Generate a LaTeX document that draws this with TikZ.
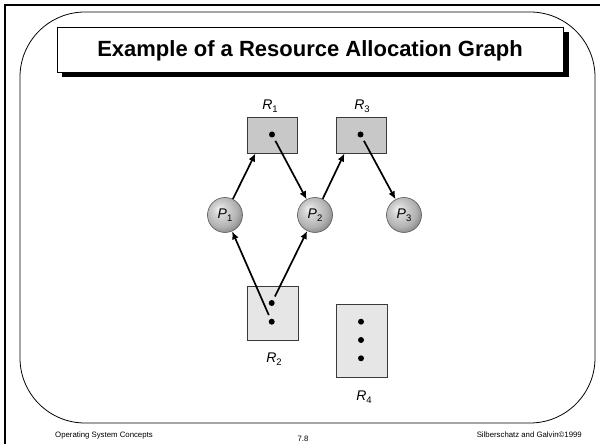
\documentclass[tikz,border=0pt]{standalone}
\usepackage{fontspec}
\setmainfont{Liberation Sans}
\usetikzlibrary{arrows.meta,shapes.geometric,calc}
\newcommand\lab[2]{\textit{#1}\raisebox{-3pt}{\fontsize{9.5}{9.5}\selectfont #2}}
\definecolor{boxdark}{HTML}{C8C8C8}
\definecolor{boxlight}{HTML}{E6E6E6}
\definecolor{edgegray}{HTML}{3A3A3A}
\pgfdeclareradialshading{sphere}{\pgfpoint{-9bp}{9bp}}{%
  color(0bp)=(black!5);
  color(10bp)=(black!18);
  color(22bp)=(black!30);
  color(28bp)=(black!42);
  color(50bp)=(black!50)}
\tikzset{
  resdark/.style={draw=edgegray, line width=0.9pt, fill=boxdark, minimum width=50pt, minimum height=36pt, inner sep=0pt},
  reslight/.style={draw=edgegray, line width=0.9pt, fill=boxlight, inner sep=0pt},
  proc/.style={circle, draw=black!65, line width=0.6pt, shading=sphere, minimum size=35pt, inner sep=0pt, font=\fontsize{14}{14}\selectfont},
  dotn/.style={circle, fill=black, minimum size=6pt, inner sep=0pt},
  lbl/.style={font=\fontsize{14}{14}\selectfont, inner sep=0pt},
  arr/.style={line width=1.7pt, -{Latex[length=8pt,width=7pt]}},
  foot/.style={font=\fontsize{7.8}{8}\selectfont, inner sep=0pt}
}
\begin{document}
\begin{tikzpicture}[x=1pt,y=1pt]
\useasboundingbox (0,0) rectangle (600,444);
\fill[white] (0,0) rectangle (600,444);
% outer frame
\draw[line width=1.6pt] (5,0) -- (5,439) -- (600,439);
% rounded panel
\draw[line width=0.8pt, rounded corners=65pt] (20,21) rectangle (595,432);
% title
\fill[black] (62,367) rectangle (569,412);
\node[draw, line width=0.8pt, fill=white, minimum width=506pt, minimum height=45pt, inner sep=0pt, anchor=north west] (title) at (57,417) {};
\node[font=\bfseries\fontsize{22}{24}\selectfont] (tt) at (310,393) {Example of a Resource Allocation Graph};
% resources
\node[resdark] (R1) at (272,309) {};
\node[resdark] (R3) at (361,309) {};
\node[reslight, minimum width=51pt, minimum height=54pt] (R2) at (272.5,131) {};
\node[reslight, minimum width=51pt, minimum height=73pt] (R4) at (361.5,103.5) {};
% dots
\node[dotn] (d1) at (272,309.5) {};
\node[dotn] (d3) at (360.5,309.5) {};
\node[dotn] (d2a) at (271.7,141) {};
\node[dotn] (d2b) at (271.7,122.3) {};
\node[dotn] (d4a) at (361,122.3) {};
\node[dotn] (d4b) at (361,104) {};
\node[dotn] (d4c) at (361,85.7) {};
% processes
\node[proc] (P1) at (225,229) {\lab{P}{1}};
\node[proc] (P2) at (315,229) {\lab{P}{2}};
\node[proc] (P3) at (404,229) {\lab{P}{3}};
% labels
\node[lbl] (l1) at (270,338) {\lab{R}{1}};
\node[lbl] (l3) at (362,338) {\lab{R}{3}};
\node[lbl] (l2) at (274,85) {\lab{R}{2}};
\node[lbl] (l4) at (364,47) {\lab{R}{4}};
% edges
\draw[arr] (P1) -- (R1.228);
\draw[arr, shorten <=4pt] (d1) -- (P2);
\draw[arr] (P2) -- (R3.228);
\draw[arr, shorten <=4pt] (d3) -- (P3);
\draw[arr, shorten <=4pt] (d2b) -- (P1);
\draw[arr, shorten <=4pt] (d2a) -- (P2);
% footer
\node[foot, anchor=west] (f1) at (55,9) {Operating System Concepts};
\node[foot] (f2) at (303,5) {7.8};
\node[foot, anchor=east] (f3) at (582,9) {Silberschatz and Galvin©1999};
\end{tikzpicture}
\end{document}
